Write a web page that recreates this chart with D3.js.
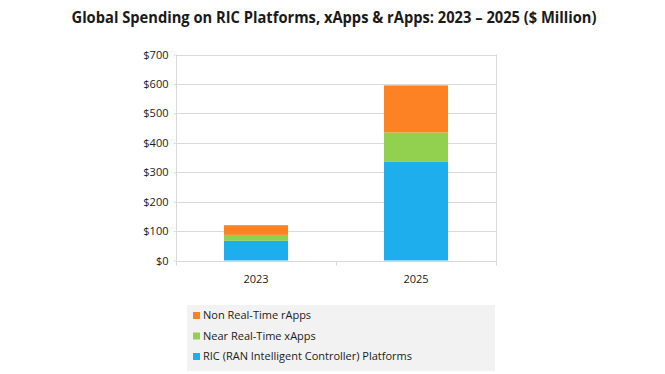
<!DOCTYPE html>
<html>
<head>
<meta charset="utf-8">
<script src="https://cdn.jsdelivr.net/npm/d3@7"></script>
<style>
  body { margin: 0; background: #fff; }
  text { font-family: "Open Sans", "Liberation Sans", sans-serif; fill: #1a1a1a; }
</style>
</head>
<body>
<div id="chart"></div>
<script>
// chart data
var years = ["2023", "2025"];
var ricPlatforms = [67, 335];
var nearRtXapps = [20, 100];
var nonRtRapps = [33, 160];
var yTicks = [0, 100, 200, 300, 400, 500, 600, 700];
var seriesNames = ["RIC (RAN Intelligent Controller) Platforms", "Near Real-Time xApps", "Non Real-Time rApps"];
var seriesColors = ["#1eaeed", "#92d050", "#fd8224"];

(function() {
  var width = 665,
      height = 374;

  var svg = d3.select("#chart")
    .append("svg")
    .attr("width", width)
    .attr("height", height);

  var margin = {left: 176, right: 169, top: 54.5, bottom: 113.5};

  var x = d3.scaleBand()
    .domain(years)
    .range([margin.left, width - margin.right])
    .paddingInner(0.6)
    .paddingOuter(0.3);

  var y = d3.scaleLinear()
    .domain([0, 700])
    .range([height - margin.bottom, margin.top]);

  // title
  svg.append("text")
    .attr("x", 334)
    .attr("y", 23)
    .attr("text-anchor", "middle")
    .attr("font-size", 16)
    .attr("font-weight", "bold")
    .attr("fill", "#000")
    .attr("textLength", 525)
    .attr("lengthAdjust", "spacingAndGlyphs")
    .text("Global Spending on RIC Platforms, xApps & rApps: 2023 \u2013 2025 ($ Million)");

  // gridlines
  svg.append("g")
    .selectAll("line")
    .data(yTicks.slice(1))
    .enter().append("line")
    .attr("x1", margin.left)
    .attr("x2", width - margin.right)
    .attr("y1", function(d) { return Math.round(y(d)) + 0.5; })
    .attr("y2", function(d) { return Math.round(y(d)) + 0.5; })
    .attr("stroke", "#d9d9d9");

  // right border
  svg.append("line")
    .attr("x1", width - margin.right + 0.5)
    .attr("x2", width - margin.right + 0.5)
    .attr("y1", margin.top)
    .attr("y2", height - margin.bottom + 4)
    .attr("stroke", "#d9d9d9");

  // y axis
  var yAxis = svg.append("g")
    .attr("transform", "translate(" + (margin.left + 0.5) + ",0)")
    .call(d3.axisLeft(y).tickValues(yTicks).tickSize(3).tickPadding(5)
      .tickFormat(function(d) { return "$" + d; }));
  yAxis.selectAll("line, path").attr("stroke", "#d9d9d9");
  yAxis.select(".domain").attr("d", "M0," + y(0) + "V" + y(700));
  yAxis.selectAll("text").attr("font-size", 11).attr("font-family", "Open Sans, sans-serif").attr("fill", "#1a1a1a");

  // x axis
  var xAxis = svg.append("g")
    .attr("transform", "translate(0," + (Math.round(y(0)) + 0.5) + ")")
    .call(d3.axisBottom(x).tickSize(0).tickPadding(14));
  xAxis.select(".domain").attr("stroke", "#d9d9d9").attr("d", "M" + margin.left + ",0H" + (width - margin.right));
  xAxis.selectAll("text").attr("font-size", 11).attr("font-family", "Open Sans, sans-serif").attr("fill", "#1a1a1a");
  xAxis.selectAll(".sep")
    .data([margin.left, (margin.left + width - margin.right) / 2, width - margin.right])
    .enter().append("line")
    .attr("x1", function(d) { return Math.round(d) + 0.5; })
    .attr("x2", function(d) { return Math.round(d) + 0.5; })
    .attr("y1", 0).attr("y2", 4)
    .attr("stroke", "#d9d9d9");

  // stacked bars
  var rows = years.map(function(yr, i) {
    return {year: yr, ric: ricPlatforms[i], near: nearRtXapps[i], non: nonRtRapps[i]};
  });
  var stack = d3.stack().keys(["ric", "near", "non"]);
  var layers = stack(rows);

  svg.append("g")
    .selectAll("g")
    .data(layers)
    .enter().append("g")
    .attr("fill", function(d, i) { return seriesColors[i]; })
    .selectAll("rect")
    .data(function(d) { return d; })
    .enter().append("rect")
    .attr("x", function(d) { return x(d.data.year); })
    .attr("width", x.bandwidth())
    .attr("y", function(d) { return y(d[1]); })
    .attr("height", function(d) { return y(d[0]) - y(d[1]); });

  // legend
  var legend = svg.append("g");
  legend.append("rect")
    .attr("x", 187)
    .attr("y", 305)
    .attr("width", 308)
    .attr("height", 66)
    .attr("fill", "#f2f2f2");

  var legendItems = [2, 1, 0];
  var item = legend.selectAll(".item")
    .data(legendItems)
    .enter().append("g")
    .attr("class", "item")
    .attr("transform", function(d, i) { return "translate(193," + (315 + i * 20.5) + ")"; });

  item.append("rect")
    .attr("x", 0)
    .attr("y", -3)
    .attr("width", 7)
    .attr("height", 7)
    .attr("fill", function(d) { return seriesColors[d]; });

  item.append("text")
    .attr("x", 10)
    .attr("y", 4)
    .attr("font-size", 11)
    .text(function(d) { return seriesNames[d]; });
})();
</script>
</body>
</html>
